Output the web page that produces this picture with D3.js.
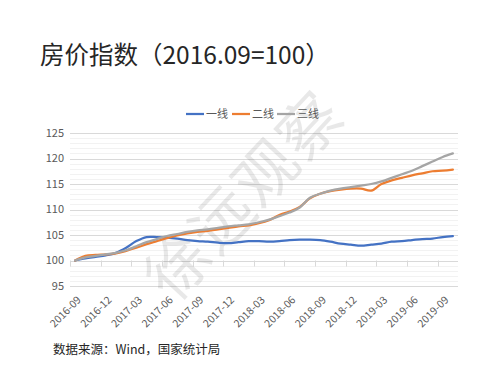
<!DOCTYPE html>
<html>
<head>
<meta charset="utf-8">
<script src="https://cdn.jsdelivr.net/npm/d3@7"></script>
<style>
  body { margin: 0; background: #fff; }
  svg { display: block; font-family: "Noto Sans CJK SC", "Open Sans", sans-serif; }
</style>
</head>
<body>
<svg id="chart" width="500" height="375"></svg>
<script>
const months = ['2016-09','2016-10','2016-11','2016-12','2017-01','2017-02','2017-03','2017-04','2017-05','2017-06',
  '2017-07','2017-08','2017-09','2017-10','2017-11','2017-12','2018-01','2018-02','2018-03','2018-04',
  '2018-05','2018-06','2018-07','2018-08','2018-09','2018-10','2018-11','2018-12','2019-01','2019-02',
  '2019-03','2019-04','2019-05','2019-06','2019-07','2019-08','2019-09','2019-10']

const tier1 = [100, 100.4, 100.7, 101.0, 101.5, 102.5, 103.8, 104.6, 104.6, 104.5,
  104.3, 104.0, 103.8, 103.7, 103.5, 103.4, 103.6, 103.8, 103.8, 103.7,
  103.8, 104.0, 104.1, 104.1, 104.0, 103.7, 103.3, 103.1, 102.9, 103.1,
  103.3, 103.7, 103.8, 104.0, 104.2, 104.3, 104.6, 104.8]

const tier2 = [100, 100.9, 101.1, 101.2, 101.4, 101.9, 102.5, 103.2, 103.8, 104.4,
  104.9, 105.3, 105.6, 105.8, 106.1, 106.4, 106.7, 106.9, 107.3, 107.9,
  108.9, 109.6, 110.5, 112.2, 113.1, 113.6, 113.9, 114.1, 114.1, 113.7,
  115.0, 115.7, 116.2, 116.7, 117.1, 117.5, 117.6, 117.8]

const tier3 = [100, 100.6, 100.9, 101.2, 101.5, 102.0, 102.8, 103.6, 104.2, 104.8,
  105.2, 105.6, 105.9, 106.1, 106.4, 106.7, 106.9, 107.1, 107.5, 108.0,
  108.7, 109.4, 110.4, 112.3, 113.1, 113.7, 114.1, 114.4, 114.7, 115.0,
  115.5, 116.2, 116.9, 117.6, 118.5, 119.4, 120.3, 121.0]

const seriesNames = ['一线', '二线', '三线']
const seriesColors = ['#4472C4', '#ED7D31', '#A5A5A5']
const yTicks = [95, 100, 105, 110, 115, 120, 125]

const svg = d3.select('#chart')
const margin = { left: 70, right: 42, top: 133, bottom: 89 }
const W = 500, H = 375

const x = d3.scaleBand()
  .domain(months)
  .range([margin.left, W - margin.right])

const y = d3.scaleLinear()
  .domain([95, 125])
  .range([H - margin.bottom, margin.top])

// title
svg.append('text')
  .attr('x', 40)
  .attr('y', 64)
  .attr('font-size', 24.5)
  .attr('fill', '#262626')
  .text('房价指数（2016.09=100）')

// minor grid
svg.append('g')
  .selectAll('line')
  .data(d3.range(95, 126, 1).filter(v => v % 5 !== 0))
  .enter()
  .append('line')
  .attr('x1', margin.left)
  .attr('x2', W - margin.right)
  .attr('y1', d => Math.round(y(d)) + 0.5)
  .attr('y2', d => Math.round(y(d)) + 0.5)
  .attr('stroke', '#f2f2f2')

// major grid
svg.append('g')
  .selectAll('line')
  .data(yTicks)
  .enter()
  .append('line')
  .attr('x1', margin.left)
  .attr('x2', W - margin.right)
  .attr('y1', d => Math.round(y(d)) + 0.5)
  .attr('y2', d => Math.round(y(d)) + 0.5)
  .attr('stroke', '#d9d9d9')

// y labels
svg.append('g')
  .selectAll('text')
  .data(yTicks)
  .enter()
  .append('text')
  .attr('x', 64)
  .attr('y', d => y(d))
  .attr('dy', '0.35em')
  .attr('text-anchor', 'end')
  .attr('font-size', 11)
  .attr('fill', '#595959')
  .text(d => d)

// category ticks on the 100 line
const tickIdx = d3.range(0, months.length + 1, 3)
svg.append('g')
  .selectAll('line')
  .data(tickIdx)
  .enter()
  .append('line')
  .attr('x1', i => Math.round(margin.left + i * x.step()) + 0.5)
  .attr('x2', i => Math.round(margin.left + i * x.step()) + 0.5)
  .attr('y1', y(100))
  .attr('y2', y(100) + 6)
  .attr('stroke', '#d9d9d9')

// x labels
const labelMonths = months.filter((m, i) => i % 3 === 0)
svg.append('g')
  .selectAll('text')
  .data(labelMonths)
  .enter()
  .append('text')
  .attr('transform', d => `translate(${x(d) + x.bandwidth() / 2 + 4}, 298) rotate(-45)`)
  .attr('text-anchor', 'end')
  .attr('dy', '0.35em')
  .attr('font-size', 10.5)
  .attr('fill', '#595959')
  .text(d => d)

// watermark
svg.append('text')
  .attr('transform', 'translate(245, 196) rotate(-47)')
  .attr('text-anchor', 'middle')
  .attr('dy', '0.35em')
  .attr('font-size', 62)
  .attr('fill', '#000')
  .attr('fill-opacity', 0.09)
  .attr('letter-spacing', 2)
  .text('徐远观察')

// lines
const line = d3.line()
  .x((d, i) => x(months[i]) + x.bandwidth() / 2)
  .y(d => y(d))
  .curve(d3.curveCatmullRom.alpha(0.5))

const allSeries = [tier1, tier2, tier3]
svg.append('g')
  .selectAll('path')
  .data(allSeries)
  .enter()
  .append('path')
  .attr('d', line)
  .attr('fill', 'none')
  .attr('stroke', (d, i) => seriesColors[i])
  .attr('stroke-width', 2.25)
  .attr('stroke-linejoin', 'round')
  .attr('stroke-linecap', 'round')

// legend
const legendX = [186, 232, 277]
const lg = svg.append('g')
  .selectAll('g')
  .data(seriesNames)
  .enter()
  .append('g')
  .attr('transform', (d, i) => `translate(${legendX[i]}, 114)`)
lg.append('line')
  .attr('x1', 0)
  .attr('x2', 18)
  .attr('stroke', (d, i) => seriesColors[i])
  .attr('stroke-width', 2.25)
lg.append('text')
  .attr('x', 20)
  .attr('dy', '0.35em')
  .attr('font-size', 11)
  .attr('fill', '#595959')
  .text(d => d)

// source
svg.append('text')
  .attr('x', 53)
  .attr('y', 354)
  .attr('font-size', 12.5)
  .attr('fill', '#262626')
  .text('数据来源：Wind，国家统计局')
</script>
</body>
</html>
